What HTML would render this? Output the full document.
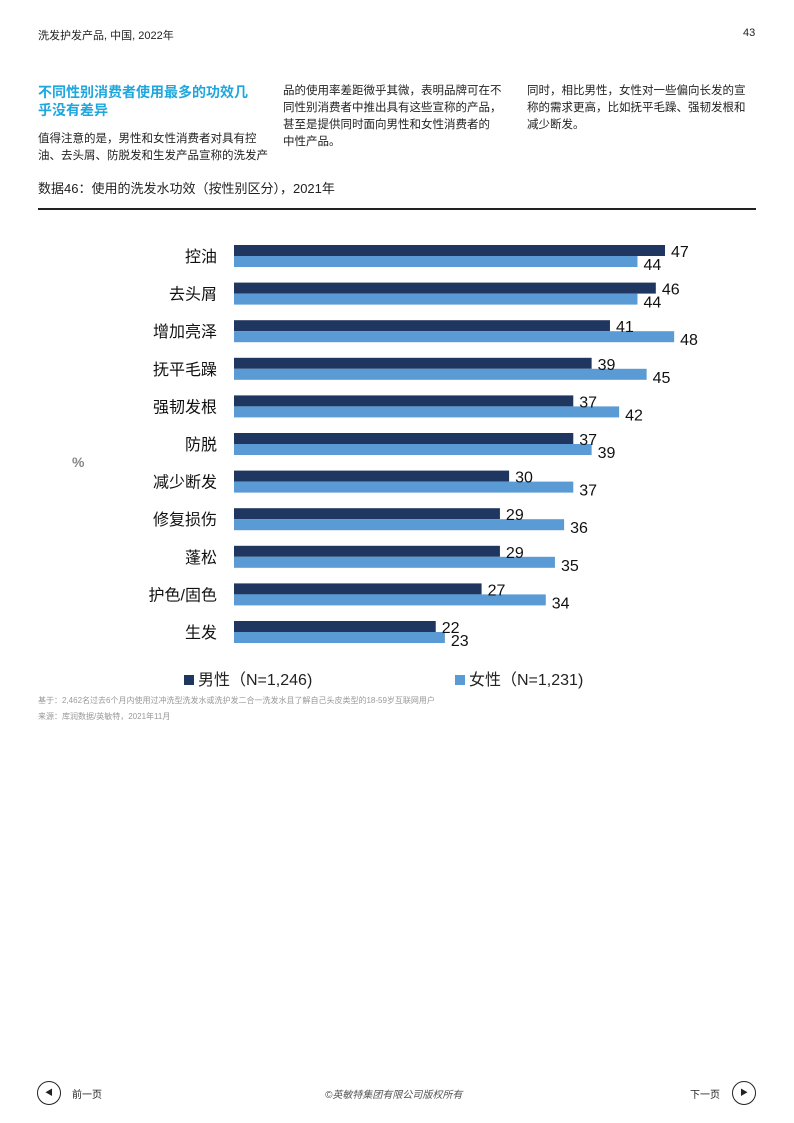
<!DOCTYPE html>
<html><head><meta charset="utf-8"><style>
body{margin:0;width:794px;height:1123px;background:#fff;position:relative;font-family:"Liberation Sans","Noto Sans CJK SC",sans-serif;color:#222;overflow:hidden}
.a{position:absolute;white-space:nowrap}
</style></head><body>
<div class="a" style="left:38px;top:27px;font-size:11px">洗发护发产品, 中国, 2022年</div>
<div class="a" style="left:743px;top:27px;font-size:11px">43</div>
<div class="a" style="left:38px;top:83px;font-size:14px;font-weight:bold;color:#1fa6dd;line-height:18px">不同性别消费者使用最多的功效几<br>乎没有差异</div>
<div class="a" style="left:38px;top:131px;font-size:11.5px;line-height:17px">值得注意的是，男性和女性消费者对具有控<br>油、去头屑、防脱发和生发产品宣称的洗发产</div>
<div class="a" style="left:283px;top:83px;font-size:11.5px;line-height:17px">品的使用率差距微乎其微，表明品牌可在不<br>同性别消费者中推出具有这些宣称的产品，<br>甚至是提供同时面向男性和女性消费者的<br>中性产品。</div>
<div class="a" style="left:527px;top:83px;font-size:11.5px;line-height:17px">同时，相比男性，女性对一些偏向长发的宣<br>称的需求更高，比如抚平毛躁、强韧发根和<br>减少断发。</div>
<div class="a" style="left:38px;top:178px;font-size:13px">数据46：使用的洗发水功效（按性别区分），2021年</div>
<div class="a" style="left:38px;top:208px;width:718px;height:2px;background:#222"></div>
<svg class="a" style="left:0;top:0" width="794" height="1123" font-family="Liberation Sans,Noto Sans CJK SC,sans-serif">
<text x="72" y="467" font-size="14" fill="#888" font-weight="bold">%</text>
<g id="g"></g>
</svg>
<div class="a" style="left:184px;top:666px;font-size:16px"><span style="display:inline-block;width:10px;height:10px;background:#1f3760;margin-right:4px"></span>男性（N=1,246)</div>
<div class="a" style="left:455px;top:666px;font-size:16px"><span style="display:inline-block;width:10px;height:10px;background:#5b9bd5;margin-right:4px"></span>女性（N=1,231)</div>
<div class="a" style="left:38px;top:695px;font-size:8px;color:#999">基于：2,462名过去6个月内使用过冲洗型洗发水或洗护发二合一洗发水且了解自己头皮类型的18-59岁互联网用户</div>
<div class="a" style="left:38px;top:711px;font-size:8px;color:#999">来源：库润数据/英敏特，2021年11月</div>
<div class="a" style="left:37px;top:1081px;width:22px;height:22px;border:1.5px solid #222;border-radius:50%;font-size:8px;text-align:center;line-height:22px">◀</div>
<div class="a" style="left:72px;top:1086px;font-size:10px">前一页</div>
<div class="a" style="left:325px;top:1086px;font-size:10px;font-style:italic;color:#555">©英敏特集团有限公司版权所有</div>
<div class="a" style="left:690px;top:1086px;font-size:10px">下一页</div>
<div class="a" style="left:732px;top:1081px;width:22px;height:22px;border:1.5px solid #222;border-radius:50%;font-size:8px;text-align:center;line-height:22px">▶</div>
<script>
var L=["控油","去头屑","增加亮泽","抚平毛躁","强韧发根","防脱","减少断发","修复损伤","蓬松","护色/固色","生发"],
M=[47,46,41,39,37,37,30,29,29,27,22],F=[44,44,48,45,42,39,37,36,35,34,23],s="";
for(var i=0;i<11;i++){var y=245+37.6*i,m=M[i]*9.17,f=F[i]*9.17;
s+='<rect x="234" y="'+y+'" width="'+m+'" height="11" fill="#1f3760"/>';
s+='<rect x="234" y="'+(y+11)+'" width="'+f+'" height="11" fill="#5b9bd5"/>';
s+='<text x="217" y="'+(y+17)+'" font-size="16" text-anchor="end" fill="#111">'+L[i]+'</text>';
s+='<text x="'+(240+m)+'" y="'+(y+12)+'" font-size="16" fill="#111">'+M[i]+'</text>';
s+='<text x="'+(240+f)+'" y="'+(y+25)+'" font-size="16" fill="#111">'+F[i]+'</text>';}
document.getElementById("g").innerHTML=s;
</script>
</body></html>
